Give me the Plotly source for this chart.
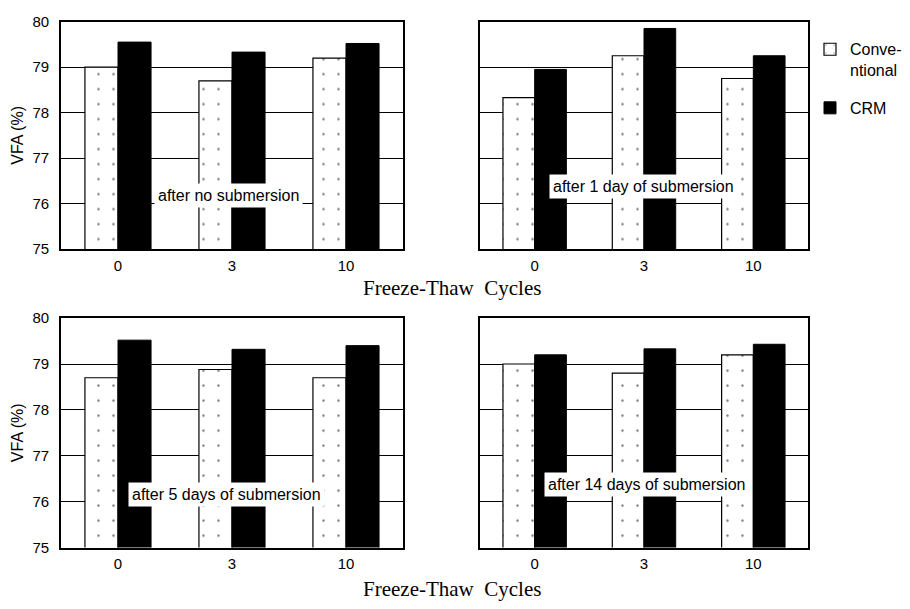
import plotly.graph_objects as go
from plotly.subplots import make_subplots

W, H = 910, 609

cycles = ["0", "3", "10"]
y_ticks = [75, 76, 77, 78, 79, 80]

conv_none = [79.0, 78.7, 79.2]
crm_none = [79.55, 79.33, 79.52]
conv_1day = [78.33, 79.25, 78.75]
crm_1day = [78.95, 79.85, 79.25]
conv_5day = [78.7, 78.88, 78.7]
crm_5day = [79.52, 79.32, 79.4]
conv_14day = [79.0, 78.8, 79.2]
crm_14day = [79.2, 79.33, 79.43]

panel_labels = ["after no submersion", "after 1 day of submersion",
                "after 5 days of submersion", "after 14 days of submersion"]
series_names = ["Conve-<br>ntional", "CRM"]
x_title = "Freeze-Thaw\u00a0\u00a0Cycles"
y_title = "VFA (%)"

panels = [(conv_none, crm_none), (conv_1day, crm_1day),
          (conv_5day, crm_5day), (conv_14day, crm_14day)]

fig = make_subplots(rows=2, cols=2)

for i, (cv, cr) in enumerate(panels):
    r, c = i // 2 + 1, i % 2 + 1
    fig.add_trace(go.Bar(x=cycles, y=cv, name=series_names[0], legendgroup="conv",
                         showlegend=(i == 0),
                         marker=dict(color="white", line=dict(color="black", width=1.2),
                                     pattern=dict(shape=".", fgcolor="black", bgcolor="white",
                                                  size=15, solidity=0.02))),
                  row=r, col=c)
    fig.add_trace(go.Bar(x=cycles, y=cr, name=series_names[1], legendgroup="crm",
                         showlegend=(i == 0),
                         marker=dict(color="black", line=dict(color="black", width=1))),
                  row=r, col=c)

def px_dom(a, b, total):
    return [a / total, b / total]

xdoms = [px_dom(61, 403, W), px_dom(480, 808, W)]
ydoms = [[1 - 247 / H, 1 - 13 / H], [1 - 554 / H, 1 - 318 / H]]

sans = "Liberation Sans, Arial, sans-serif"
axis_font = dict(family=sans, size=15, color="black")

for i in range(4):
    r, c = i // 2, i % 2
    n = i + 1
    xa = "xaxis" if n == 1 else f"xaxis{n}"
    ya = "yaxis" if n == 1 else f"yaxis{n}"
    fig.layout[xa].update(domain=xdoms[c], showline=True, linecolor="black", linewidth=1.6,
                          mirror=True, ticks="", tickfont=axis_font, showgrid=False,
                          ticklabelstandoff=2)
    fig.layout[ya].update(domain=ydoms[r], range=[75, 80], tickvals=y_ticks,
                          showline=True, linecolor="black", linewidth=1.6, mirror=True,
                          showgrid=True, gridcolor="black", gridwidth=1, ticks="",
                          tickfont=axis_font, showticklabels=(c == 0), zeroline=False,
                          ticklabelstandoff=7)
    if c == 0:
        fig.layout[ya].update(title=dict(text=y_title, font=dict(family=sans, size=16, color="black"),
                                         standoff=5))

label_pos = [(0.49, 0.18), (0.497, 0.222), (0.485, 0.178), (0.509, 0.22)]
for i, (lx, ly) in enumerate(label_pos):
    n = i + 1
    xr = "x domain" if n == 1 else f"x{n} domain"
    yr = "y domain" if n == 1 else f"y{n} domain"
    fig.add_annotation(x=lx, y=ly, xref=xr, yref=yr, text=panel_labels[i], showarrow=False,
                       font=dict(family=sans, size=16, color="black"),
                       bgcolor="white", borderpad=3)

for ty in [287, 597]:
    fig.add_annotation(x=452 / W, y=1 - ty / H, xref="paper", yref="paper", text=x_title,
                       showarrow=False, yanchor="middle",
                       font=dict(family="Liberation Serif, Times New Roman, serif", size=21,
                                 color="black"))

fig.update_layout(
    width=W, height=H, margin=dict(l=0, r=0, t=0, b=0),
    paper_bgcolor="white", plot_bgcolor="white",
    barmode="group", bargap=0.42, bargroupgap=0.0,
    legend=dict(x=810 / W, y=1 - 24 / H, xanchor="left", yanchor="top", valign="top",
                font=dict(family=sans, size=16, color="black"),
                itemwidth=30, tracegroupgap=14, bgcolor="rgba(0,0,0,0)"),
)

fig.write_html("out.html")
